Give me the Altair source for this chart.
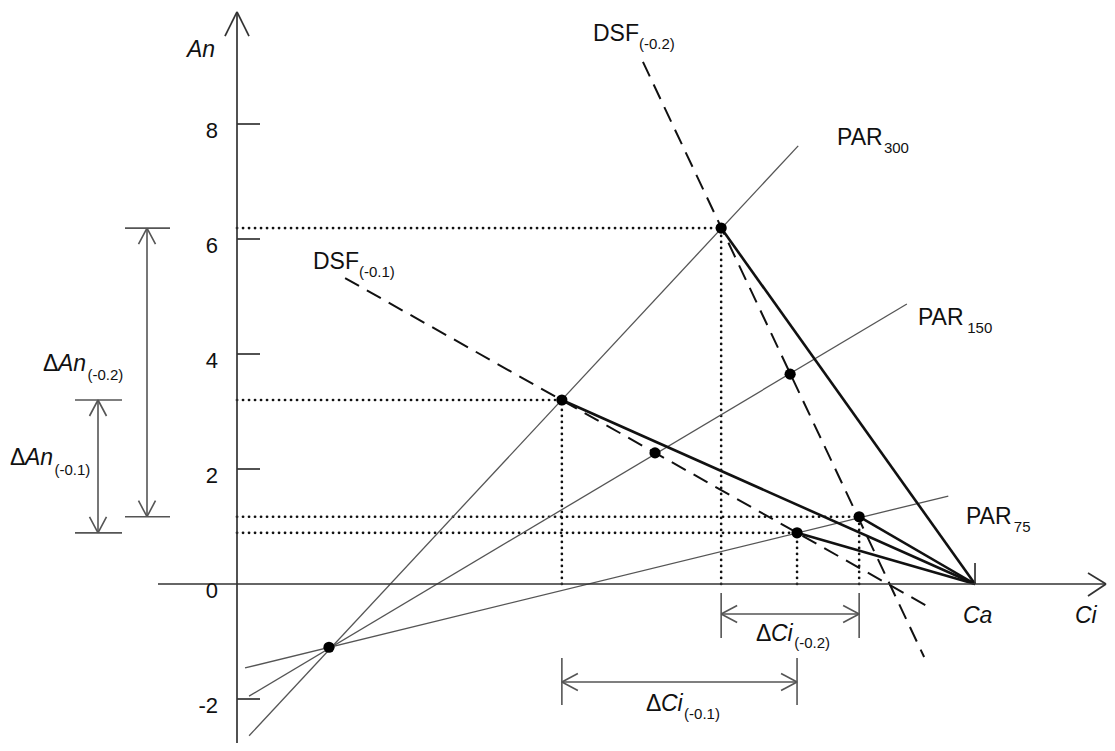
import altair as alt
import pandas as pd

# ---------------- data (Ci in arbitrary units, An in µmol m-2 s-1) ----------------
CA = 12.835
# intersection points: DSF(-0.2) x PAR300/150/75, DSF(-0.1) x PAR300/150/75, common point
pt_ci = [8.42, 9.62, 10.82, 5.65, 7.27, 9.74, 1.60]
pt_an = [6.19, 3.65, 1.17, 3.20, 2.28, 0.89, -1.10]
proj_idx = [0, 2, 3, 5]          # points with projections and lines to Ca

par_names = ["PAR300", "PAR150", "PAR75"]
par_ci0 = [0.21, 0.21, 0.14]
par_an0 = [-2.64, -1.95, -1.46]
par_ci1 = [9.76, 11.65, 12.37]
par_an1 = [7.62, 4.87, 1.53]

dsf_names = ["DSF(-0.2)", "DSF(-0.1)"]
dsf_ci0 = [7.06, 1.88]
dsf_an0 = [9.08, 5.32]
dsf_ci1 = [11.95, 12.10]
dsf_an1 = [-1.27, -0.44]

y_ticks = [8, 6, 4, 2, 0, -2]
y_tick_labels = ["8", "6", "4", "2", "0", "-2"]

# ---------------- layout helpers ----------------
S = 57.5                      # pixels per data unit (both axes)
W, H = 1099, 735
X_DOM = [(8 - 237) / S, (8 + W - 237) / S]
Y_DOM = [(584 - 743) / S, (584 - 8) / S]
xs = alt.Scale(domain=X_DOM, nice=False, zero=False)
ys = alt.Scale(domain=Y_DOM, nice=False, zero=False)


def px(v):
    return v / S


def seg_layer(rows, color, width, dash=None, cap="butt"):
    df = pd.DataFrame(rows, columns=["x", "y", "x2", "y2"])
    kw = dict(color=color, strokeWidth=width, strokeCap=cap)
    if dash is not None:
        kw["strokeDash"] = dash
    return alt.Chart(df).mark_rule(**kw).encode(
        x=alt.X("x:Q", scale=xs, axis=None),
        y=alt.Y("y:Q", scale=ys, axis=None),
        x2="x2:Q", y2="y2:Q")


def arrow_head(tx, ty, direction):
    L, Wd = px(16), px(8.5)
    if direction == "up":
        return [(tx, ty, tx - Wd, ty - L), (tx, ty, tx + Wd, ty - L)]
    if direction == "down":
        return [(tx, ty, tx - Wd, ty + L), (tx, ty, tx + Wd, ty + L)]
    if direction == "left":
        return [(tx, ty, tx + L, ty + Wd), (tx, ty, tx + L, ty - Wd)]
    return [(tx, ty, tx - L, ty + Wd), (tx, ty, tx - L, ty - Wd)]


# ---------------- geometry ----------------
XT = X_DOM[1] - px(1)
axis_rows = [
    (0, -2.95, 0, 9.948),                 # An axis
    (-1.374, 0, XT, 0),                   # Ci axis
    (0, 9.948, -0.209, 9.530), (0, 9.948, 0.209, 9.530),
    (XT, 0, XT - px(18), px(11)), (XT, 0, XT - px(18), -px(12)),
    (CA, 0, CA, 0.365),                   # Ca tick
]
axis_rows += [(0, t, 0.4, t) for t in y_ticks if t != 0]

par_rows = list(zip(par_ci0, par_an0, par_ci1, par_an1))
dsf_rows = list(zip(dsf_ci0, dsf_an0, dsf_ci1, dsf_an1))
ca_rows = [(pt_ci[i], pt_an[i], CA, 0) for i in proj_idx]
dot_rows = []
for i in proj_idx:
    dot_rows.append((0, pt_an[i], pt_ci[i], pt_an[i]))
    dot_rows.append((pt_ci[i], 0, pt_ci[i], pt_an[i]))

# dimension arrows
dim_rows = []
# Delta An(-0.2)
xa = px(147 - 237)
dim_rows += [(xa, pt_an[2], xa, pt_an[0]),
             (px(125 - 237), pt_an[0], px(170 - 237), pt_an[0]),
             (px(125 - 237), pt_an[2], px(170 - 237), pt_an[2])]
dim_rows += arrow_head(xa, pt_an[0], "up") + arrow_head(xa, pt_an[2], "down")
# Delta An(-0.1)
xb = px(98 - 237)
dim_rows += [(xb, pt_an[5], xb, pt_an[3]),
             (px(75 - 237), pt_an[3], px(122 - 237), pt_an[3]),
             (px(75 - 237), pt_an[5], px(122 - 237), pt_an[5])]
dim_rows += arrow_head(xb, pt_an[3], "up") + arrow_head(xb, pt_an[5], "down")
# Delta Ci(-0.2)
ya = px(584 - 614)
dim_rows += [(pt_ci[0], ya, pt_ci[2], ya),
             (pt_ci[0], px(584 - 593), pt_ci[0], px(584 - 638)),
             (pt_ci[2], px(584 - 593), pt_ci[2], px(584 - 638))]
dim_rows += arrow_head(pt_ci[0], ya, "left") + arrow_head(pt_ci[2], ya, "right")
# Delta Ci(-0.1)
yb = px(584 - 682)
dim_rows += [(pt_ci[3], yb, pt_ci[5], yb),
             (pt_ci[3], px(584 - 658), pt_ci[3], px(584 - 705)),
             (pt_ci[5], px(584 - 658), pt_ci[5], px(584 - 705))]
dim_rows += arrow_head(pt_ci[3], yb, "left") + arrow_head(pt_ci[5], yb, "right")

# ---------------- text ----------------
FONT = "Liberation Sans"
upright = pd.DataFrame({
    "x": [10.435, 11.843, 12.678, 6.191, 1.322, -3.374, -3.948, 9.026, 7.113],
    "y": [7.635, 4.504, 1.043, 9.443, 5.478, 3.704, 2.070, -0.991, -2.209],
    "t": ["PAR", "PAR", "PAR", "DSF", "DSF", "Δ", "Δ", "Δ", "Δ"],
})
italic = pd.DataFrame({
    "x": [-0.87, 12.626, 14.574, -3.113, -3.687, 9.287, 7.374],
    "y": [9.165, -0.678, -0.678, 3.704, 2.070, -0.991, -2.209],
    "t": ["An", "Ca", "Ci", "An", "An", "Ci", "Ci"],
})
subs = pd.DataFrame({
    "x": [11.25, 12.70, 13.51, 6.99, 2.12, -2.60, -3.175, 9.69, 7.775],
    "y": [7.496, 4.365, 0.904, 9.304, 5.339, 3.548, 1.896, -1.113, -2.348],
    "t": ["300", "150", "75", "(-0.2)", "(-0.1)", "(-0.2)", "(-0.1)", "(-0.2)", "(-0.1)"],
})
ticklab = pd.DataFrame({"x": [px(218 - 237)] * len(y_ticks), "y": y_ticks, "t": y_tick_labels})


def text_layer(df, size, style="normal", align="left", dy=0):
    return alt.Chart(df).mark_text(
        align=align, baseline="alphabetic", font=FONT, fontSize=size,
        fontStyle=style, color="#111", dy=dy
    ).encode(x=alt.X("x:Q", scale=xs, axis=None),
             y=alt.Y("y:Q", scale=ys, axis=None), text="t:N")


points = pd.DataFrame({"x": pt_ci, "y": pt_an})
pts = alt.Chart(points).mark_circle(size=125, color="black", opacity=1).encode(
    x=alt.X("x:Q", scale=xs, axis=None), y=alt.Y("y:Q", scale=ys, axis=None))

chart = alt.layer(
    seg_layer(dot_rows, "#111", 2.7, dash=[0.1, 5.9], cap="round"),
    seg_layer(par_rows, "#555", 1.3),
    seg_layer(dsf_rows, "#111", 2.0, dash=[16, 9]),
    seg_layer(ca_rows, "#111", 2.6),
    seg_layer(axis_rows, "#333", 1.7),
    seg_layer(dim_rows, "#555", 1.6),
    pts,
    text_layer(upright, 23),
    text_layer(italic, 23, style="italic"),
    text_layer(subs, 15),
    text_layer(ticklab, 22, align="right", dy=14),
).properties(
    width=W, height=H, padding=0,
    autosize=alt.AutoSizeParams(type="none"),
    background="white",
).configure_view(stroke=None)

chart.save("out.html", embed_options={"renderer": "svg", "actions": False})
